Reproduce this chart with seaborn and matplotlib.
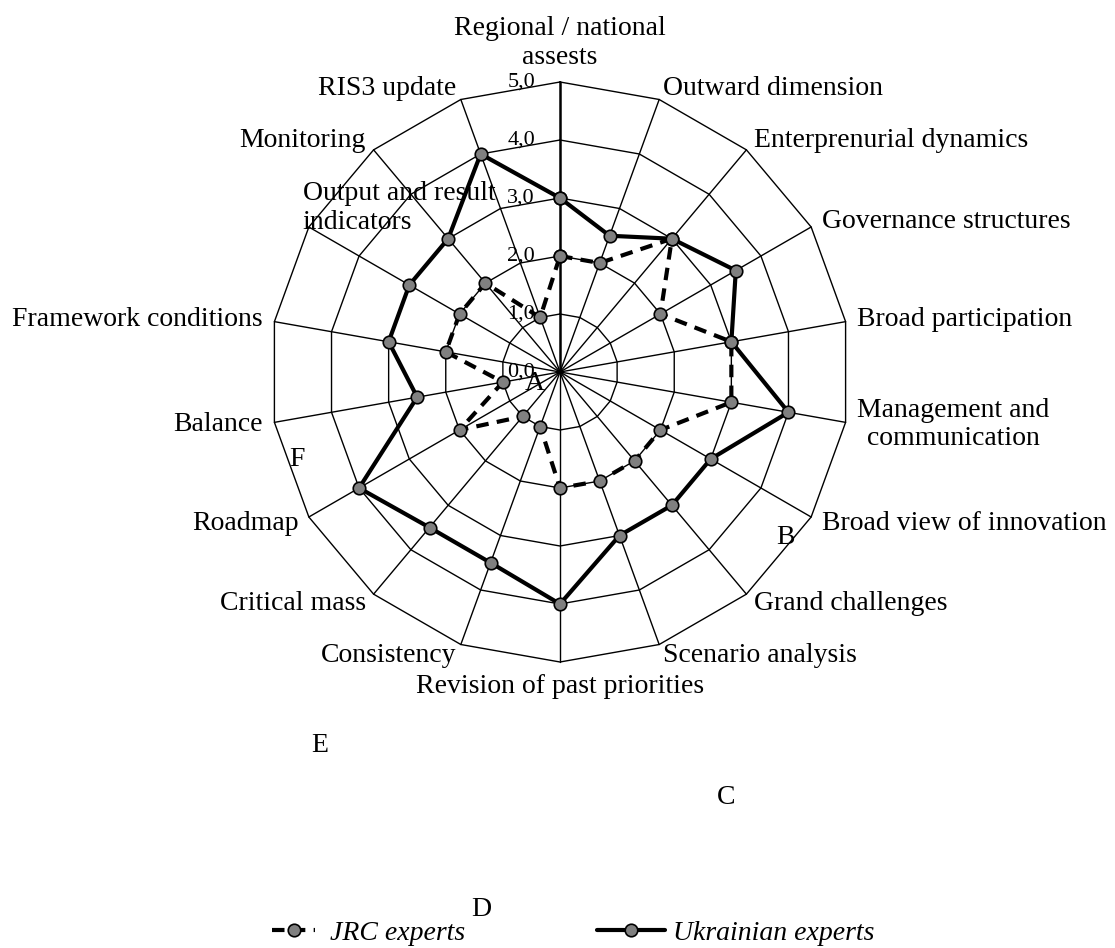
import numpy as np
import pandas as pd
import matplotlib.pyplot as plt
import seaborn as sns

# categories clockwise from the top spoke
categories = ["Regional / national\nassests", "Outward dimension", "Enterprenurial dynamics",
              "Governance structures", "Broad participation", "Management and\ncommunication",
              "Broad view of innovation", "Grand challenges", "Scenario analysis",
              "Revision of past priorities", "Consistency", "Critical mass", "Roadmap",
              "Balance", "Framework conditions", "Output and result\nindicators",
              "Monitoring", "RIS3 update"]
jrc = [2.0, 2.0, 3.0, 2.0, 3.0, 3.0, 2.0, 2.0, 2.0, 2.0, 1.0, 1.0, 2.0, 1.0, 2.0, 2.0, 2.0, 1.0]
ukrainian = [3.0, 2.5, 3.0, 3.5, 3.0, 4.0, 3.0, 3.0, 3.0, 4.0, 3.5, 3.5, 4.0, 2.5, 3.0, 3.0, 3.0, 4.0]
levels = [0, 1, 2, 3, 4, 5]
series_names = ["JRC experts", "Ukrainian experts"]
stray_letters = ["A", "B", "C", "D", "E", "F"]

W, H, DPI = 1115, 948, 100
CX, CY, PX_PER_UNIT = 560, 372, 58.0   # centre of the web in pixels
letter_px = {"A": (535, 383), "B": (785, 537), "C": (726, 797),
             "D": (481, 909), "E": (320, 745), "F": (297, 459)}

sns.set_style("white")
plt.rcParams["font.family"] = ["Liberation Serif", "DejaVu Serif"]
plt.rcParams["text.color"] = "black"

n = len(categories)
theta = np.arange(n) * 2 * np.pi / n


def polar_xy(vals):
    v = np.append(vals, vals[0])
    t = np.append(theta, theta[0])
    return v * np.sin(t), v * np.cos(t)


frames = []
for name, vals in zip(series_names, [jrc, ukrainian]):
    x, y = polar_xy(np.asarray(vals, dtype=float))
    frames.append(pd.DataFrame({"x": x, "y": y, "series": name}))
df = pd.concat(frames, ignore_index=True)

fig = plt.figure(figsize=(W / DPI, H / DPI), dpi=DPI)
ax = fig.add_axes([0, 0, 1, 1])
ax.axis("off")

# polygon web
rmax = max(levels)
for lv in levels[1:]:
    gx, gy = polar_xy(np.full(n, lv, dtype=float))
    ax.plot(gx, gy, color="black", lw=1.0, zorder=1)
for i, t in enumerate(theta):
    ax.plot([0, rmax * np.sin(t)], [0, rmax * np.cos(t)], color="black",
            lw=1.8 if i == 0 else 1.0, zorder=1)

# value labels on the vertical axis
for lv in levels:
    ax.annotate(f"{lv:.1f}".replace(".", ","), xy=(0, lv), xytext=(-18, 0),
                textcoords="offset points", ha="right", va="center", fontsize=16,
                color="black", zorder=2)

# category labels just outside the outer ring
off = 12 * 72 / DPI
for lab, t in zip(categories, theta):
    vx, vy = rmax * np.sin(t), rmax * np.cos(t)
    s, c = np.sin(t), np.cos(t)
    if abs(s) < 1e-6:
        ha, va = "center", ("bottom" if c > 0 else "top")
    else:
        ha, va = ("left" if s > 0 else "right"), "center"
    dx, dy = off * s, off * c
    malign = "center"
    if lab.startswith("Output"):
        ha, malign = "left", "left"
        dx, dy = -6 * 72 / DPI, 19 * 72 / DPI
    ax.annotate(lab, xy=(vx, vy), xytext=(dx, dy), textcoords="offset points",
                ha=ha, va=va, multialignment=malign, fontsize=20, linespacing=1.2,
                color="black")

handles = []
styles = {"JRC experts": (0, (3, 2)), "Ukrainian experts": "-"}
for name in series_names:
    sns.lineplot(data=df[df["series"] == name], x="x", y="y", sort=False, estimator=None,
                 ax=ax, color="black", linewidth=3, linestyle=styles[name],
                 marker="o", markersize=9, markerfacecolor="#808080",
                 markeredgecolor="black", markeredgewidth=1.2, legend=False, zorder=3)
    handles.append(ax.lines[-1])
ax.set_xlim(-CX / PX_PER_UNIT, (W - CX) / PX_PER_UNIT)
ax.set_ylim(-(H - CY) / PX_PER_UNIT, CY / PX_PER_UNIT)
ax.axis("off")

for letter in stray_letters:
    px, py = letter_px[letter]
    fig.text(px / W, 1 - py / H, letter, ha="center", va="center", fontsize=20, color="black")

leg_font = {"family": "Liberation Serif", "style": "italic", "size": 20}
fig.legend([handles[0]], [series_names[0]], loc="center left",
           bbox_to_anchor=(272 / W, 1 - 933 / H), frameon=False, prop=leg_font,
           handlelength=1.55, handletextpad=0.55, borderpad=0, borderaxespad=0, numpoints=1)
fig.legend([handles[1]], [series_names[1]], loc="center left",
           bbox_to_anchor=(597 / W, 1 - 933 / H), frameon=False, prop=leg_font,
           handlelength=2.45, handletextpad=0.3, borderpad=0, borderaxespad=0, numpoints=1)

fig.savefig("out.png", dpi=DPI)
